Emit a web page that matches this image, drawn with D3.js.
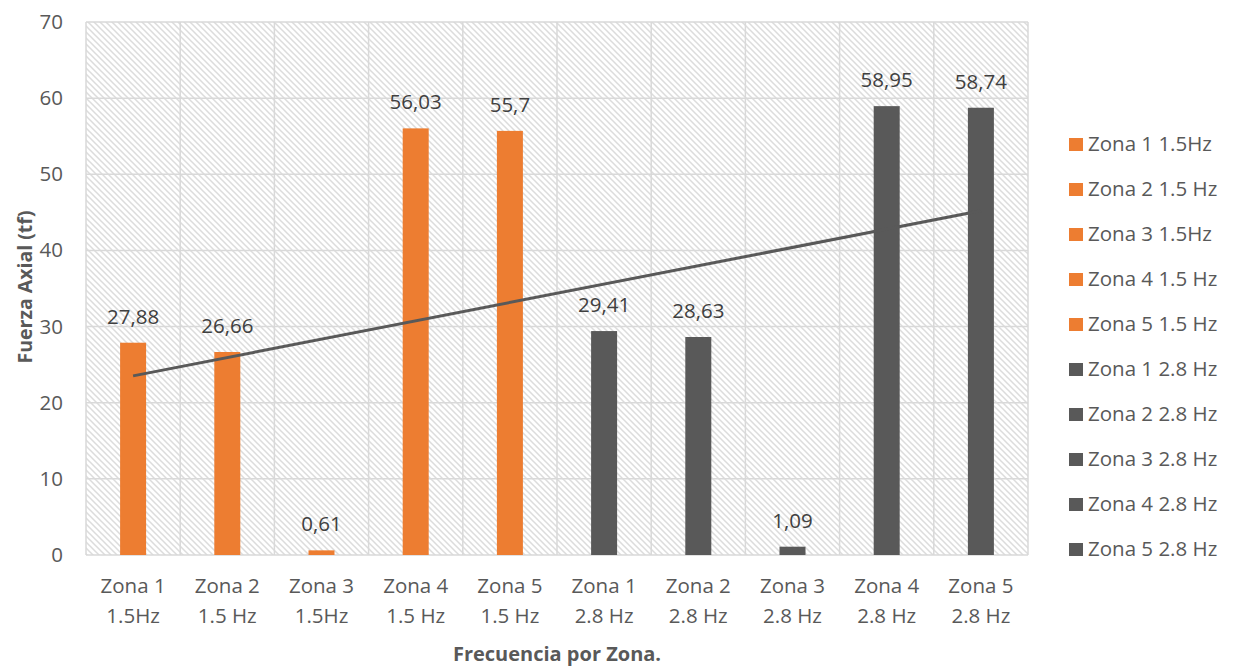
<!DOCTYPE html>
<html><head><meta charset="utf-8">
<script src="https://cdn.jsdelivr.net/npm/d3@7"></script>
<style>body{margin:0;background:#fff;font-family:"Open Sans","Noto Sans",sans-serif;}</style>
</head><body><svg id="c" width="1234" height="666"></svg>
<script>
const categories = [["Zona 1","1.5Hz"],["Zona 2","1.5 Hz"],["Zona 3","1.5Hz"],["Zona 4","1.5 Hz"],["Zona 5","1.5 Hz"],["Zona 1","2.8 Hz"],["Zona 2","2.8 Hz"],["Zona 3","2.8 Hz"],["Zona 4","2.8 Hz"],["Zona 5","2.8 Hz"]];
const values = [27.88, 26.66, 0.61, 56.03, 55.7, 29.41, 28.63, 1.09, 58.95, 58.74];
const labels = ["27,88","26,66","0,61","56,03","55,7","29,41","28,63","1,09","58,95","58,74"];
const groups = ["a","a","a","a","a","b","b","b","b","b"];
const legendNames = ["Zona 1 1.5Hz","Zona 2 1.5 Hz","Zona 3 1.5Hz","Zona 4 1.5 Hz","Zona 5 1.5 Hz","Zona 1 2.8 Hz","Zona 2 2.8 Hz","Zona 3 2.8 Hz","Zona 4 2.8 Hz","Zona 5 2.8 Hz"];
const yTicks = [0,10,20,30,40,50,60,70];
const colors = {a:"#ED7D31", b:"#595959"};

const FS = 20.5;
const svg = d3.select("#c");
const L=86, R=1028, T=22, B=555;
const x = d3.scaleBand().domain(d3.range(values.length)).range([L,R]).paddingInner(0).paddingOuter(0);
const y = d3.scaleLinear().domain([0,70]).range([B,T]);

const defs = svg.append("defs");
const pat = defs.append("pattern").attr("id","hatch").attr("patternUnits","userSpaceOnUse")
  .attr("width",6).attr("height",6);
pat.append("rect").attr("width",6).attr("height",6).attr("fill","#fff");
pat.append("path").attr("d","M-1,-1 L7,7 M-4,2 L4,10 M2,-4 L10,4").attr("stroke","#dcdcdc").attr("stroke-width",1.5);

svg.append("rect").attr("x",L).attr("y",T).attr("width",R-L).attr("height",B-T).attr("fill","url(#hatch)");

// gridlines
svg.append("g").selectAll("line").data(yTicks).join("line")
  .attr("x1",L).attr("x2",R).attr("y1",d=>y(d)).attr("y2",d=>y(d))
  .attr("stroke","#d9d9d9").attr("stroke-width",1.5);
const bounds = d3.range(values.length+1).map(i=> i<values.length ? x(i) : R);
svg.append("g").selectAll("line").data(bounds).join("line")
  .attr("x1",d=>d).attr("x2",d=>d).attr("y1",T).attr("y2",B)
  .attr("stroke","#d9d9d9").attr("stroke-width",1.5);

// y axis labels
const yAxis = d3.axisLeft(y).tickValues(yTicks).tickSize(0).tickPadding(0);
const ya = svg.append("g").attr("transform",`translate(${L-23},0)`).call(yAxis);
ya.select(".domain").remove();
ya.selectAll("text").attr("font-size",FS).attr("fill","#595959").attr("font-family","Open Sans");

// bars
const bw = 26;
svg.append("g").selectAll("rect").data(values).join("rect")
  .attr("x",(d,i)=>x(i)+x.bandwidth()/2-bw/2).attr("width",bw)
  .attr("y",d=>y(d)).attr("height",d=>B-y(d))
  .attr("fill",(d,i)=>colors[groups[i]]);

// data labels
svg.append("g").selectAll("text").data(values).join("text")
  .attr("x",(d,i)=>x(i)+x.bandwidth()/2).attr("y",d=>y(d)-19)
  .attr("text-anchor","middle").attr("font-size",FS).attr("fill","#404040")
  .text((d,i)=>labels[i]);

// trendline (linear regression)
const n=values.length, xs=d3.range(1,n+1);
const mx=d3.mean(xs), my=d3.mean(values);
const slope=d3.sum(xs,(xx,i)=>(xx-mx)*(values[i]-my))/d3.sum(xs,xx=>(xx-mx)**2);
const icpt=my-slope*mx;
svg.append("line")
  .attr("x1",x(0)+x.bandwidth()/2).attr("y1",y(icpt+slope*1))
  .attr("x2",x(n-1)+x.bandwidth()/2).attr("y2",y(icpt+slope*n))
  .attr("stroke","#595959").attr("stroke-width",3);

// x labels
const xl = svg.append("g").selectAll("text").data(categories).join("text")
  .attr("x",(d,i)=>x(i)+x.bandwidth()/2).attr("text-anchor","middle")
  .attr("font-size",FS).attr("fill","#595959");
xl.append("tspan").attr("x",(d,i)=>x(i)+x.bandwidth()/2).attr("y",593).text(d=>d[0]);
xl.append("tspan").attr("x",(d,i)=>x(i)+x.bandwidth()/2).attr("y",623).text(d=>d[1]);

// axis titles
svg.append("text").attr("x",557).attr("y",661).attr("text-anchor","middle")
  .attr("font-size",20).attr("font-weight","bold").attr("fill","#595959").text("Frecuencia por Zona.");
svg.append("text").attr("transform","translate(32,287) rotate(-90)").attr("text-anchor","middle")
  .attr("font-size",19.5).attr("font-weight","bold").attr("fill","#595959").text("Fuerza Axial (tf)");

// legend
const lg = svg.append("g").selectAll("g").data(legendNames).join("g")
  .attr("transform",(d,i)=>`translate(1069,${138+i*45})`);
lg.append("rect").attr("x",0).attr("y",0).attr("width",14).attr("height",13)
  .attr("fill",(d,i)=>colors[groups[i]]);
lg.append("text").attr("x",19).attr("y",13).attr("font-size",FS).attr("fill","#595959").text(d=>d);
</script></body></html>
